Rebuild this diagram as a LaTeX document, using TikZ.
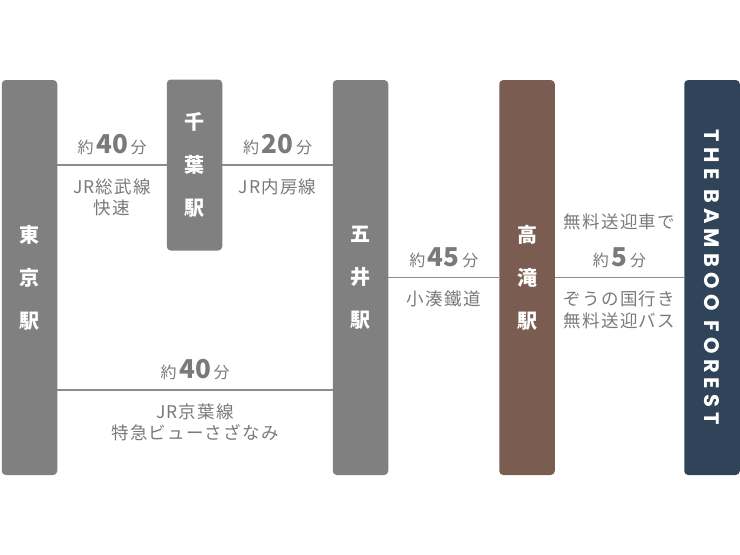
\documentclass[tikz,border=0pt]{standalone}
\usepackage{fontspec}
\setmainfont{Noto Sans CJK JP}
\newfontfamily\labfont[LetterSpace=7]{Noto Sans CJK JP}
\newfontfamily\forestfont[LetterSpace=25]{Poppins}
\usepackage{tikz}
\usetikzlibrary{positioning}

\definecolor{stgray}{HTML}{808080}
\definecolor{stbrown}{HTML}{7B5C50}
\definecolor{stnavy}{HTML}{2F4459}
\definecolor{labgray}{HTML}{7A7A7A}
\definecolor{linegray}{HTML}{8C8C8C}

\newcommand{\yaku}[1]{{\rmfamily\fontsize{16}{18}\selectfont 約\,{\fontsize{26}{28}\selectfont\bfseries #1}\,分}}

\begin{document}
\begin{tikzpicture}[x=1pt,y=-1pt,
  station/.style={rounded corners=4pt,minimum width=55.5pt,text=white,inner sep=0pt,
    font=\fontsize{20}{43}\selectfont\bfseries,align=center},
  link/.style={draw=linegray,line width=1.4pt},
  lab/.style={text=labgray,font=\labfont\fontsize{17.5}{21.5}\selectfont,align=center,inner sep=0pt}]
  \useasboundingbox (0,0) rectangle (740,555);
  \node[station,fill=stgray,minimum height=395pt]  (tokyo)    at (29.5,277.5)  {東\\京\\駅};
  \node[station,fill=stgray,minimum height=171pt]  (chiba)    at (194.5,165)   {千\\葉\\駅};
  \node[station,fill=stgray,minimum height=395pt]  (goi)      at (360.5,277.5) {五\\井\\駅};
  \node[station,fill=stbrown,minimum height=395pt] (takataki) at (527,277.5)   {高\\滝\\駅};
  \node[station,fill=stnavy,minimum height=395pt]  (bamboo)   at (712,277.5)
    {\rotatebox{-90}{\forestfont\fontsize{21}{24}\selectfont\bfseries THE BAMBOO FOREST}};
  \coordinate (low) at (0,390);
  \path[link]
  (tokyo.east |- chiba) -- node[lab,above=9pt] {\yaku{40}}
                           node[lab,below=13pt] {JR総武線\\快速} (chiba.west)
  (chiba.east) -- node[lab,above=9pt] {\yaku{20}}
                  node[lab,below=13pt] {JR内房線} (goi.west |- chiba)
  (goi.east) -- node[lab,above=9pt] {\yaku{45}}
                node[lab,below=13pt] {小湊鐵道} (takataki.west)
  (takataki.east) -- node[lab,above=9pt] {無料送迎車で\\[16pt]\yaku{5}}
                     node[lab,below=13pt] {ぞうの国行き\\無料送迎バス} (bamboo.west)
  (tokyo.east |- low) -- node[lab,above=9pt] {\yaku{40}}
                         node[lab,below=13pt] {JR京葉線\\特急ビューさざなみ} (goi.west |- low);
\end{tikzpicture}
\end{document}
